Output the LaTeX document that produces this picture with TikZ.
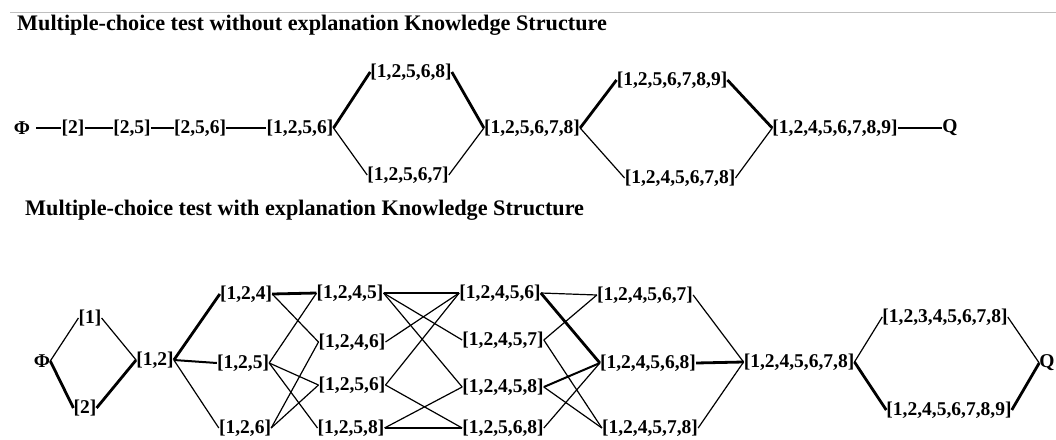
\documentclass[tikz,border=0pt]{standalone}
\usepackage{fontspec}
\setmainfont{Liberation Serif}
\begin{document}
\begin{tikzpicture}[x=1pt,y=-1pt,
  lbl/.style={font=\fontsize{19.5}{20}\selectfont\bfseries, inner sep=0pt},
  ttl/.style={font=\fontsize{22.2}{24}\selectfont\bfseries, inner sep=0pt, anchor=west},
  lnA/.style={line width=1.2pt},
  lnM/.style={line width=2pt},
  lnB/.style={line width=2.8pt}]
\useasboundingbox (0,0) rectangle (1056,439);
\draw[black!25, line width=0.9pt] (10,12) -- (1056,12);

% ---------- top structure ----------
\node[ttl] (title1) at (17,25) {Multiple-choice test without explanation Knowledge Structure};
\node[lbl] (phiT) at (22,128) {Φ};
\node[lbl] (t2) at (73,128) {[2]};
\node[lbl] (t25) at (132,128) {[2,5]};
\node[lbl] (t256) at (200,128) {[2,5,6]};
\node[lbl] (t1256) at (300,128) {[1,2,5,6]};
\node[lbl] (t12568) at (411,72) {[1,2,5,6,8]};
\node[lbl] (t12567) at (408,175) {[1,2,5,6,7]};
\node[lbl] (t125678) at (532,128) {[1,2,5,6,7,8]};
\node[lbl] (t1256789) at (672,80) {[1,2,5,6,7,8,9]};
\node[lbl] (t1245678) at (680,178) {[1,2,4,5,6,7,8]};
\node[lbl] (t12456789) at (835,128) {[1,2,4,5,6,7,8,9]};
\node[lbl] (qT) at (950,128) {Q};

\path (phiT.east) ++(6,0) coordinate (phiTe);
\draw[lnM] (phiTe) -- (t2.west);
\draw[lnM] (t2.east) -- (t25.west);
\draw[lnM] (t25.east) -- (t256.west);
\draw[lnM] (t256.east) -- (t1256.west);
\draw[lnB] (t1256.east) -- (t12568.west);
\draw[lnA] (t1256.east) -- (t12567.west);
\draw[lnB] (t12568.east) -- (t125678.west);
\draw[lnA] (t12567.east) -- (t125678.west);
\draw[lnB] (t125678.east) -- (t1256789.west);
\draw[lnA] (t125678.east) -- (t1245678.west);
\draw[lnB] (t1256789.east) -- (t12456789.west);
\draw[lnA] (t1245678.east) -- (t12456789.west);
\draw[lnM] (t12456789.east) -- (qT.west);

% ---------- bottom structure ----------
\node[ttl] (title2) at (25,210) {Multiple-choice test with explanation Knowledge Structure};
\node[lbl] (phiB) at (42,361) {Φ};
\node[lbl] (b1) at (90,318) {[1]};
\node[lbl] (b2) at (85,408) {[2]};
\node[lbl] (b12) at (155,360) {[1,2]};
\node[lbl] (b124) at (246,294) {[1,2,4]};
\node[lbl] (b125) at (243,363) {[1,2,5]};
\node[lbl] (b126) at (245,428) {[1,2,6]};
\node[lbl] (b1245) at (350,293) {[1,2,4,5]};
\node[lbl] (b1246) at (352,342) {[1,2,4,6]};
\node[lbl] (b1256) at (352,385) {[1,2,5,6]};
\node[lbl] (b1258) at (351,428) {[1,2,5,8]};
\node[lbl] (b12456) at (500,293) {[1,2,4,5,6]};
\node[lbl] (b12457) at (503,340) {[1,2,4,5,7]};
\node[lbl] (b12458) at (503,387) {[1,2,4,5,8]};
\node[lbl] (b12568) at (503,428) {[1,2,5,6,8]};
\node[lbl] (b124567) at (645,295) {[1,2,4,5,6,7]};
\node[lbl] (b124568) at (648,363) {[1,2,4,5,6,8]};
\node[lbl] (b124578) at (650,428) {[1,2,4,5,7,8]};
\node[lbl] (b1245678) at (799,362) {[1,2,4,5,6,7,8]};
\node[lbl] (b12345678) at (945,317) {[1,2,3,4,5,6,7,8]};
\node[lbl] (b12456789) at (949,410) {[1,2,4,5,6,7,8,9]};
\node[lbl] (qB) at (1047,363) {Q};

\draw[lnA] (phiB.east) -- (b1.west);
\draw[lnB] (phiB.east) -- (b2.west);
\draw[lnA] (b1.east) -- (b12.west);
\draw[lnB] (b2.east) -- (b12.west);
\draw[lnB] (b12.east) -- (b124.west);
\draw[lnM] (b12.east) -- (b125.west);
\draw[lnA] (b12.east) -- (b126.west);
\draw[lnB] (b124.east) -- (b1245.west);
\draw[lnA] (b124.east) -- (b1246.west);
\draw[lnA] (b125.east) -- (b1245.west);
\draw[lnA] (b125.east) -- (b1256.west);
\draw[lnA] (b125.east) -- (b1258.west);
\draw[lnA] (b126.east) -- (b1246.west);
\draw[lnA] (b126.east) -- (b1256.west);
\draw[lnB] (b1245.east) -- (b12456.west);
\draw[lnA] (b1245.east) -- (b12457.west);
\draw[lnA] (b1245.east) -- (b12458.west);
\draw[lnA] (b1246.east) -- (b12456.west);
\draw[lnA] (b1256.east) -- (b12456.west);
\draw[lnA] (b1256.east) -- (b12568.west);
\draw[lnA] (b1258.east) -- (b12458.west);
\draw[lnA] (b1258.east) -- (b12568.west);
\draw[lnA] (b12456.east) -- (b124567.west);
\draw[lnB] (b12456.east) -- (b124568.west);
\draw[lnA] (b12457.east) -- (b124567.west);
\draw[lnA] (b12457.east) -- (b124578.west);
\draw[lnM] (b12458.east) -- (b124568.west);
\draw[lnA] (b12458.east) -- (b124578.west);
\draw[lnA] (b12568.east) -- (b124568.west);
\draw[lnA] (b124567.east) -- (b1245678.west);
\draw[lnB] (b124568.east) -- (b1245678.west);
\draw[lnA] (b124578.east) -- (b1245678.west);
\draw[lnA] (b1245678.east) -- (b12345678.west);
\draw[lnB] (b1245678.east) -- (b12456789.west);
\draw[lnA] (b12345678.east) -- (qB.west);
\draw[lnB] (b12456789.east) -- (qB.west);
\end{tikzpicture}
\end{document}
